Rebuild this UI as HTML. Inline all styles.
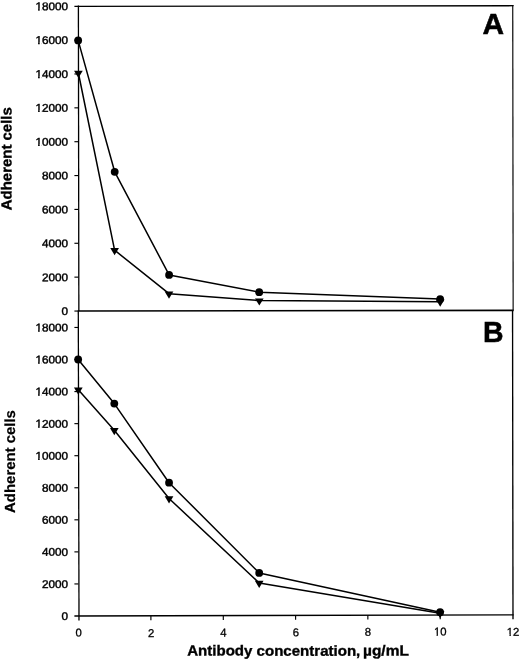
<!DOCTYPE html><html><head><meta charset="utf-8"><title>Adherent cells vs antibody concentration</title>
<style>html,body{margin:0;padding:0;background:#fff}body{width:520px;height:661px;overflow:hidden}svg{display:block}text{font-family:"Liberation Sans",sans-serif;fill:#000}.t{font-size:11.3px;stroke:#000;stroke-width:.45px}.b{font-weight:bold;font-size:14.6px;stroke:#000;stroke-width:.35px}.p{font-weight:bold;font-size:29px;stroke:#000;stroke-width:.5px}</style></head><body>
<svg width="520" height="661" viewBox="0 0 520 661">
<rect width="520" height="661" fill="#fff"/>
<g stroke="#000" stroke-width="1.15" fill="none">
<line x1="78.4" y1="5.6" x2="78.85" y2="311" stroke-width="1.3"/>
<line x1="78.3" y1="310.5" x2="79.0" y2="620.4" stroke-width="1.3"/>
<line x1="512.75" y1="5" x2="513.15" y2="310.6" stroke-width="1.15"/>
<line x1="512.55" y1="310" x2="513.0" y2="619.2" stroke-width="1.35"/>
<line x1="74.4" y1="6.3" x2="513.6" y2="5.7" stroke-width="1.35"/>
<line x1="77.9" y1="311" x2="513.6" y2="310.35" stroke-width="1.55"/>
<line x1="74.4" y1="311.05" x2="78.4" y2="311.05"/>
<line x1="74.4" y1="616" x2="513.6" y2="614.8" stroke-width="1.35"/>
<line x1="74.4" y1="277.14" x2="78.4" y2="277.14"/>
<line x1="74.4" y1="243.28" x2="78.4" y2="243.28"/>
<line x1="74.4" y1="209.42" x2="78.4" y2="209.42"/>
<line x1="74.4" y1="175.56" x2="78.4" y2="175.56"/>
<line x1="74.4" y1="141.70" x2="78.4" y2="141.70"/>
<line x1="74.4" y1="107.84" x2="78.4" y2="107.84"/>
<line x1="74.4" y1="73.98" x2="78.4" y2="73.98"/>
<line x1="74.4" y1="40.12" x2="78.4" y2="40.12"/>
<line x1="74.4" y1="583.94" x2="78.4" y2="583.94"/>
<line x1="74.4" y1="551.88" x2="78.4" y2="551.88"/>
<line x1="74.4" y1="519.82" x2="78.4" y2="519.82"/>
<line x1="74.4" y1="487.76" x2="78.4" y2="487.76"/>
<line x1="74.4" y1="455.70" x2="78.4" y2="455.70"/>
<line x1="74.4" y1="423.64" x2="78.4" y2="423.64"/>
<line x1="74.4" y1="391.58" x2="78.4" y2="391.58"/>
<line x1="74.4" y1="359.52" x2="78.4" y2="359.52"/>
<line x1="74.4" y1="327.46" x2="78.4" y2="327.46"/>
<line x1="150.90" y1="615.79" x2="150.90" y2="620.19"/>
<line x1="223.30" y1="615.58" x2="223.30" y2="619.98"/>
<line x1="295.60" y1="615.38" x2="295.60" y2="619.78"/>
<line x1="367.85" y1="615.17" x2="367.85" y2="619.57"/>
<line x1="440.20" y1="614.96" x2="440.20" y2="619.36"/>
</g>
<g class="t" text-anchor="end">
<g transform="translate(68.1,315.00) rotate(0.03) scale(1.04,1)"><text>0</text></g>
<g transform="translate(68.1,281.14) rotate(0.03) scale(1.04,1)"><text>2000</text></g>
<g transform="translate(68.1,247.28) rotate(0.03) scale(1.04,1)"><text>4000</text></g>
<g transform="translate(68.1,213.42) rotate(0.03) scale(1.04,1)"><text>6000</text></g>
<g transform="translate(68.1,179.56) rotate(0.03) scale(1.04,1)"><text>8000</text></g>
<g transform="translate(68.1,145.70) rotate(0.03) scale(1.04,1)"><text>10000</text><rect x="-31.56" y="-1.75" width="2.64" height="3.20" fill="#fff" stroke="none"/><rect x="-27.24" y="-1.75" width="1.95" height="3.20" fill="#fff" stroke="none"/></g>
<g transform="translate(68.1,111.84) rotate(0.03) scale(1.04,1)"><text>12000</text><rect x="-31.56" y="-1.75" width="2.64" height="3.20" fill="#fff" stroke="none"/><rect x="-27.24" y="-1.75" width="1.95" height="3.20" fill="#fff" stroke="none"/></g>
<g transform="translate(68.1,77.98) rotate(0.03) scale(1.04,1)"><text>14000</text><rect x="-31.56" y="-1.75" width="2.64" height="3.20" fill="#fff" stroke="none"/><rect x="-27.24" y="-1.75" width="1.95" height="3.20" fill="#fff" stroke="none"/></g>
<g transform="translate(68.1,44.12) rotate(0.03) scale(1.04,1)"><text>16000</text><rect x="-31.56" y="-1.75" width="2.64" height="3.20" fill="#fff" stroke="none"/><rect x="-27.24" y="-1.75" width="1.95" height="3.20" fill="#fff" stroke="none"/></g>
<g transform="translate(68.1,10.26) rotate(0.03) scale(1.04,1)"><text>18000</text><rect x="-31.56" y="-1.75" width="2.64" height="3.20" fill="#fff" stroke="none"/><rect x="-27.24" y="-1.75" width="1.95" height="3.20" fill="#fff" stroke="none"/></g>
<g transform="translate(68.1,620.00) rotate(0.03) scale(1.04,1)"><text>0</text></g>
<g transform="translate(68.1,587.94) rotate(0.03) scale(1.04,1)"><text>2000</text></g>
<g transform="translate(68.1,555.88) rotate(0.03) scale(1.04,1)"><text>4000</text></g>
<g transform="translate(68.1,523.82) rotate(0.03) scale(1.04,1)"><text>6000</text></g>
<g transform="translate(68.1,491.76) rotate(0.03) scale(1.04,1)"><text>8000</text></g>
<g transform="translate(68.1,459.70) rotate(0.03) scale(1.04,1)"><text>10000</text><rect x="-31.56" y="-1.75" width="2.64" height="3.20" fill="#fff" stroke="none"/><rect x="-27.24" y="-1.75" width="1.95" height="3.20" fill="#fff" stroke="none"/></g>
<g transform="translate(68.1,427.64) rotate(0.03) scale(1.04,1)"><text>12000</text><rect x="-31.56" y="-1.75" width="2.64" height="3.20" fill="#fff" stroke="none"/><rect x="-27.24" y="-1.75" width="1.95" height="3.20" fill="#fff" stroke="none"/></g>
<g transform="translate(68.1,395.58) rotate(0.03) scale(1.04,1)"><text>14000</text><rect x="-31.56" y="-1.75" width="2.64" height="3.20" fill="#fff" stroke="none"/><rect x="-27.24" y="-1.75" width="1.95" height="3.20" fill="#fff" stroke="none"/></g>
<g transform="translate(68.1,363.52) rotate(0.03) scale(1.04,1)"><text>16000</text><rect x="-31.56" y="-1.75" width="2.64" height="3.20" fill="#fff" stroke="none"/><rect x="-27.24" y="-1.75" width="1.95" height="3.20" fill="#fff" stroke="none"/></g>
<g transform="translate(68.1,331.46) rotate(0.03) scale(1.04,1)"><text>18000</text><rect x="-31.56" y="-1.75" width="2.64" height="3.20" fill="#fff" stroke="none"/><rect x="-27.24" y="-1.75" width="1.95" height="3.20" fill="#fff" stroke="none"/></g>
</g>
<g class="t" text-anchor="middle" style="stroke-width:.3px">
<g transform="translate(78.75,636.40) rotate(0.03)"><text>0</text></g>
<g transform="translate(151.20,636.90) rotate(0.03)"><text>2</text></g>
<g transform="translate(223.50,636.60) rotate(0.03)"><text>4</text></g>
<g transform="translate(296.00,636.15) rotate(0.03)"><text>6</text></g>
<g transform="translate(367.90,635.65) rotate(0.03)"><text>8</text></g>
<g transform="translate(440.20,635.40) rotate(0.03)"><text>10</text><rect x="-6.42" y="-1.75" width="2.71" height="3.20" fill="#fff" stroke="none"/><rect x="-2.17" y="-1.75" width="2.02" height="3.20" fill="#fff" stroke="none"/></g>
<g transform="translate(513.10,635.65) rotate(0.03)"><text>12</text><rect x="-6.42" y="-1.75" width="2.71" height="3.20" fill="#fff" stroke="none"/><rect x="-2.17" y="-1.75" width="2.02" height="3.20" fill="#fff" stroke="none"/></g>
</g>
<polyline points="78.15,40.40 114.70,171.80 169.10,274.90 259.20,292.15 440.15,299.10" stroke="#000" stroke-width="1.5" fill="none" stroke-linejoin="round"/>
<polyline points="78.40,73.00 114.60,250.20 169.00,293.70 259.30,300.60 440.20,301.80" stroke="#000" stroke-width="1.5" fill="none" stroke-linejoin="round"/>
<circle cx="78.15" cy="40.40" r="3.9" fill="#000"/>
<circle cx="114.70" cy="171.80" r="3.9" fill="#000"/>
<circle cx="169.10" cy="274.90" r="3.9" fill="#000"/>
<circle cx="259.20" cy="292.15" r="3.9" fill="#000"/>
<circle cx="440.15" cy="299.10" r="3.9" fill="#000"/>
<polygon points="74.05,70.80 82.75,70.80 78.40,78.00" fill="#000"/>
<polygon points="110.25,248.00 118.95,248.00 114.60,255.20" fill="#000"/>
<polygon points="164.65,291.50 173.35,291.50 169.00,298.70" fill="#000"/>
<polygon points="254.95,298.40 263.65,298.40 259.30,305.60" fill="#000"/>
<polygon points="435.85,299.60 444.55,299.60 440.20,306.80" fill="#000"/>
<polyline points="78.15,359.50 114.30,403.60 169.05,482.70 259.20,572.90 440.10,612.20" stroke="#000" stroke-width="1.5" fill="none" stroke-linejoin="round"/>
<polyline points="78.30,389.80 114.30,430.30 169.05,498.50 259.20,583.00 440.10,613.20" stroke="#000" stroke-width="1.5" fill="none" stroke-linejoin="round"/>
<circle cx="78.15" cy="359.50" r="3.9" fill="#000"/>
<circle cx="114.30" cy="403.60" r="3.9" fill="#000"/>
<circle cx="169.05" cy="482.70" r="3.9" fill="#000"/>
<circle cx="259.20" cy="572.90" r="3.9" fill="#000"/>
<circle cx="440.10" cy="612.20" r="3.9" fill="#000"/>
<polygon points="73.95,387.60 82.65,387.60 78.30,394.80" fill="#000"/>
<polygon points="109.95,428.10 118.65,428.10 114.30,435.30" fill="#000"/>
<polygon points="164.70,496.30 173.40,496.30 169.05,503.50" fill="#000"/>
<polygon points="254.85,580.80 263.55,580.80 259.20,588.00" fill="#000"/>
<polygon points="435.75,611.00 444.45,611.00 440.10,618.20" fill="#000"/>
<text class="b" transform="translate(11.6,210.2) rotate(-90.03)" textLength="103.0" lengthAdjust="spacingAndGlyphs">Adherent cells</text>
<text class="b" style="stroke-width:.2px" transform="translate(15.0,512.9) rotate(-90.03)" textLength="102.8" lengthAdjust="spacingAndGlyphs">Adherent cells</text>
<text class="b" transform="translate(187.2,655.6) rotate(0.03)" textLength="173.1" lengthAdjust="spacingAndGlyphs">Antibody concentration,</text>
<text class="b" transform="translate(363.0,655.6) rotate(0.03)" textLength="45.9" lengthAdjust="spacingAndGlyphs">µg/mL</text>
<text class="p" transform="translate(482.6,34.0) rotate(0.03) scale(1.03,1)">A</text>
<text class="p" transform="translate(482.9,341.9) rotate(0.03) scale(0.98,1)">B</text>
</svg></body></html>
